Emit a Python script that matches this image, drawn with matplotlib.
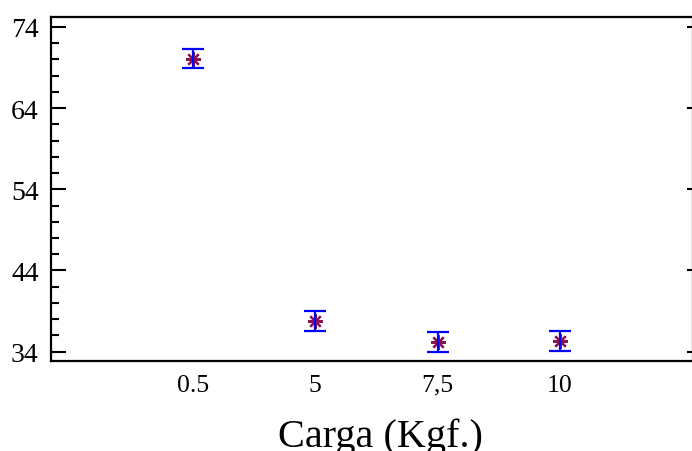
import matplotlib
matplotlib.use("Agg")
import matplotlib.pyplot as plt
from matplotlib.ticker import MultipleLocator, FixedLocator

# Mean hardness per load, with interval half-widths
categories = ["0.5", "5", "7,5", "10"]
means = [70.1, 37.8, 35.2, 35.3]
half_widths = [1.2, 1.2, 1.2, 1.2]
y_ticks = [34, 44, 54, 64, 74]

plt.rcParams["font.family"] = ["Liberation Serif", "DejaVu Serif"]

W, H = 692, 452
fig = plt.figure(figsize=(W / 100, H / 100), dpi=100)
ax = fig.add_axes([51 / W, 1 - 362 / H, (693 - 51) / W, (362 - 18) / H])

pos = list(range(len(categories)))
ax.plot(pos, means, linestyle="none", marker=(8, 2, 0), markersize=10.5,
        markeredgewidth=1.6, color="#8b1450", zorder=3)
ax.errorbar(pos, means, yerr=half_widths, fmt="none", ecolor="#0000ff",
            elinewidth=1.6, capsize=8, capthick=1.6, zorder=4)

ax.set_xlim(-1.161, 4.088)
ax.set_ylim(32.85, 75.23)

ax.set_xticks(pos)
ax.set_xticklabels(categories, fontsize=18.5)
ax.set_yticks(y_ticks)
ax.set_yticklabels([str(v) for v in y_ticks], fontsize=20)
ax.yaxis.set_minor_locator(MultipleLocator(2))

ax.tick_params(axis="x", which="both", length=0, pad=9)
ax.tick_params(axis="y", which="major", direction="in", length=10.5,
               width=1.5, pad=9, left=True, right=False)
ax.tick_params(axis="y", which="minor", direction="in", length=6,
               width=1.5, left=True, right=False)

# short inward marks on the right edge at the major values
sec = ax.secondary_yaxis("right")
sec.set_yticks(y_ticks)
sec.set_yticklabels([])
sec.tick_params(direction="in", length=4.5, width=1.5)
sec.yaxis.set_minor_locator(FixedLocator([]))
sec.spines["right"].set_visible(False)

for s in ax.spines.values():
    s.set_linewidth(1.6)

fig.text(380 / W, 1 - 447 / H, "Carga (Kgf.)", ha="center", va="baseline",
         fontsize=29)

fig.savefig("out.png", dpi=100)
